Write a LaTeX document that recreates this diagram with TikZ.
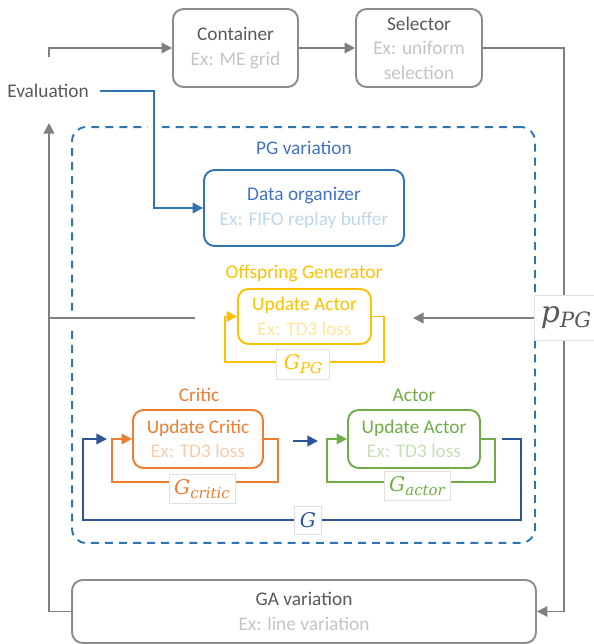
\documentclass[tikz,border=0pt]{standalone}
\usepackage{fontspec}
\setmainfont{Carlito}
\newfontfamily\labelfont{DejaVu Serif}
\usetikzlibrary{arrows.meta}

\definecolor{boxgray}{HTML}{8C8C8C}
\definecolor{linegray}{HTML}{7F7F7F}
\definecolor{textgray}{HTML}{595959}
\definecolor{exgray}{HTML}{C4C4C4}
\definecolor{pgblue}{HTML}{2E75B6}
\definecolor{datablue}{HTML}{4472C4}
\definecolor{exblue}{HTML}{BDD7EE}
\definecolor{loopblue}{HTML}{2F5597}
\definecolor{genyellow}{HTML}{FFC000}
\definecolor{exyellow}{HTML}{FFE699}
\definecolor{criticorange}{HTML}{ED7D31}
\definecolor{exorange}{HTML}{F8CBAD}
\definecolor{actorgreen}{HTML}{70AD47}
\definecolor{exgreen}{HTML}{C5E0B4}

% italic symbol with subscript
\newcommand{\symsub}[2]{{\labelfont\itshape #1\raisebox{-0.35ex}{\fontsize{8.5}{9}\selectfont #2}}}

\tikzset{
    box/.style={draw, rounded corners=6pt, line width=1.1pt, align=center,
        font=\fontsize{11}{14}\selectfont, inner sep=0pt},
    arr/.style={-{Triangle[length=6pt,width=6pt]}, line width=1.1pt},
    glabel/.style={fill=white, draw=black!12, line width=0.4pt,
        font=\fontsize{11.5}{14}\selectfont, inner sep=3pt},
    title/.style={font=\fontsize{11}{14}\selectfont},
    gap/.style={fill=white},
}

\begin{document}
\begin{tikzpicture}[x=0.02cm, y=-0.02cm]
    \useasboundingbox (0,0) rectangle (593,644);
    % PG variation
    \node[draw=pgblue, line width=1.1pt, rounded corners=8pt,
          dash pattern=on 4.5pt off 3.5pt,
          minimum width=9.26cm, minimum height=8.32cm] (pg) at (303.5,335) {};
    \node[title, text=datablue] (pgtitle) at (304,148) {PG variation};
    % Container / Selector / GA variation
    \node[box, draw=boxgray, text=textgray, minimum width=2.5cm, minimum height=1.56cm]
        (container) at (235.5,48) {Container\\\textcolor{exgray}{Ex: ME grid}};
    \node[box, draw=boxgray, text=textgray, minimum width=2.52cm, minimum height=1.56cm]
        (selector) at (419,48) {Selector\\\textcolor{exgray}{Ex: uniform}\\\textcolor{exgray}{selection}};
    \node[box, draw=boxgray, text=textgray, minimum width=9.28cm, minimum height=1.26cm]
        (ga) at (304,611.5) {GA variation\\\textcolor{exgray}{Ex: line variation}};
    \node[title, text=textgray, inner sep=6pt] (evaluation) at (48,91) {Evaluation};
    % Data organizer
    \node[box, draw=pgblue, text=datablue, minimum width=4cm, minimum height=1.52cm]
        (data) at (304,208) {Data organizer\\\textcolor{exblue}{Ex: FIFO replay buffer}};
    % Offspring Generator
    \node[title, text=genyellow] (gentitle) at (304,273) {Offspring Generator};
    \node[box, draw=genyellow, text=genyellow, minimum width=2.66cm, minimum height=1.1cm]
        (offspring) at (304.5,316.5) {Update Actor\\\textcolor{exyellow}{Ex: TD3 loss}};
    % Critic and Actor
    \node[title, text=criticorange] (crittitle) at (199,395) {Critic};
    \node[box, draw=criticorange, text=criticorange, minimum width=2.6cm, minimum height=1.16cm]
        (critic) at (198,439) {Update Critic\\\textcolor{exorange}{Ex: TD3 loss}};
    \node[title, text=actorgreen] (acttitle) at (414,395) {Actor};
    \node[box, draw=actorgreen, text=actorgreen, minimum width=2.64cm, minimum height=1.16cm]
        (actor) at (414,439) {Update Actor\\\textcolor{exgreen}{Ex: TD3 loss}};

    \coordinate (evalin) at (49,57);
    \coordinate (evalup) at (49,123);
    \coordinate (evalturn) at (154,91);
    \coordinate (genout) at (195,318);
    \coordinate (genin) at (413,318);
    \coordinate (genloopr) at (384,362);
    \coordinate (genloopl) at (225,362);
    \coordinate (critloopr) at (278,482);
    \coordinate (critloopl) at (112,482);
    \coordinate (actloopr) at (495,482);
    \coordinate (actloopl) at (327,482);
    \coordinate (midfrom) at (293,441);
    \coordinate (midto) at (318,441);
    \coordinate (gstart) at (502,439);
    \coordinate (gcornerr) at (521,520);
    \coordinate (gcornerl) at (83,520);
    \coordinate (gend) at (107,439);

    % gaps in the dashed frame
    \fill[gap] (148,120) rectangle (162,134);
    \fill[gap] (66,312) rectangle (78,325);
    \fill[gap] (530,312) rectangle (541,325);

    % Outer loop
    \draw[arr, linegray] (evalin) |- (container.west);
    \draw[arr, linegray] (container) -- (selector);
    \draw[arr, linegray] (selector.east) -- ++(81,0) |- (ga.east);
    \draw[arr, linegray] (ga.west) -| (evalup);
    \draw[line width=1.1pt, linegray] (genout) -- (genout -| evalup);
    \draw[arr, pgblue] (evaluation.east) -- (evalturn) |- (data.west);
    % Loops
    \draw[arr, genyellow] (offspring.east) -| (genloopr) -- (genloopl) |- (offspring.west);
    \draw[arr, criticorange] (critic.east) -| (critloopr) -- (critloopl) |- (critic.west);
    \draw[arr, actorgreen] (actor.east) -| (actloopr) -- (actloopl) |- (actor.west);
    \draw[arr, loopblue] (midfrom) -- (midto);
    \draw[arr, loopblue] (gstart) -| (gcornerr) -- (gcornerl) |- (gend);

    % Labels
    \node[glabel, text=genyellow, minimum width=1.06cm, minimum height=0.6cm] (gpg) at (303,364) {\symsub{G}{PG}};
    \node[glabel, text=criticorange, minimum height=0.5cm] (gcritic) at (202,489) {\symsub{G}{critic}};
    \node[glabel, text=actorgreen, minimum height=0.55cm] (gactor) at (417,486) {\symsub{G}{actor}};
    \node[glabel, text=loopblue, minimum height=0.56cm] (gall) at (308,520) {{\labelfont\itshape G}};
    \node[glabel, text=textgray, inner xsep=4pt, minimum height=0.9cm] (ppg) at (566,318)
        {{\labelfont\itshape\fontsize{17}{18}\selectfont p\raisebox{-0.3ex}{\fontsize{12}{13}\selectfont PG}}};
    \draw[arr, linegray] (ppg.west) -- (genin);
\end{tikzpicture}
\end{document}
